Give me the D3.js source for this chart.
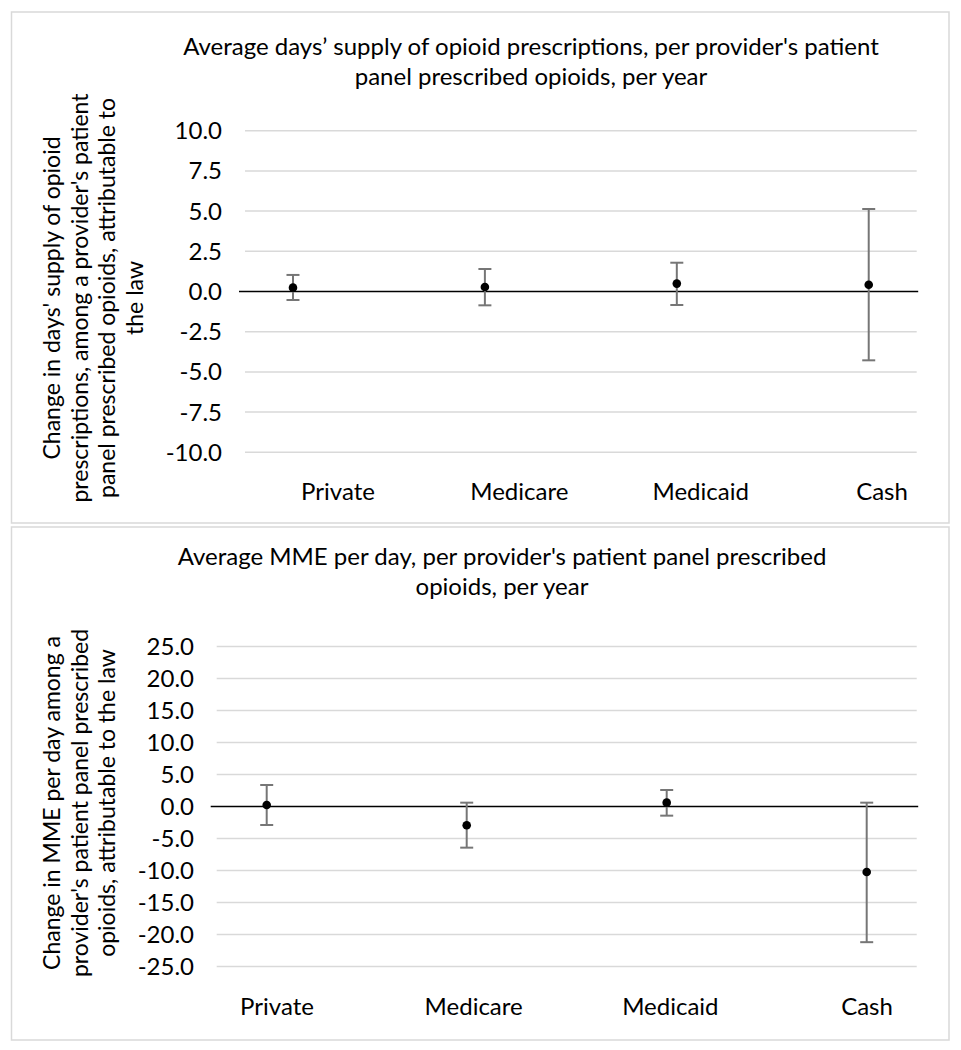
<!DOCTYPE html>
<html>
<head>
<meta charset="utf-8">
<script src="https://cdn.jsdelivr.net/npm/d3@7"></script>
<style>
	body { margin: 0; background: #fff; }
	text { font-family: Lato, "Open Sans", sans-serif; fill: #000; }
</style>
</head>
<body>
<div id="chart"></div>
<script>
var categories = ['Private', 'Medicare', 'Medicaid', 'Cash'];

// days' supply panel
var daysEstimate = [0.24, 0.28, 0.49, 0.42];
var daysLower = [-0.53, -0.86, -0.84, -4.28];
var daysUpper = [1.03, 1.40, 1.79, 5.13];
var daysTicks = [-10, -7.5, -5, -2.5, 0, 2.5, 5, 7.5, 10];

// MME per day panel
var mmeEstimate = [0.23, -2.94, 0.60, -10.23];
var mmeLower = [-2.89, -6.43, -1.43, -21.2];
var mmeUpper = [3.36, 0.60, 2.58, 0.60];
var mmeTicks = [-25, -20, -15, -10, -5, 0, 5, 10, 15, 20, 25];

const WIDTH = 961;
const HEIGHT = 1050;
const FONT = 24;

var svg = d3.select('#chart').append('svg')
	.attr('width', WIDTH)
	.attr('height', HEIGHT);

drawPanel({
	box: [11.5, 12, 937.5, 511],
	title: ['Average days\u2019 supply of opioid prescriptions, per provider\'s patient', 'panel prescribed opioids, per year'],
	titleX: 531, titleY: 47,
	yTitle: ['Change in days\' supply of opioid', 'prescriptions, among a provider\'s patient', 'panel prescribed opioids, attributable to', 'the law'],
	yTitleX: 52, yTitleY: 298,
	plotX: [245, 916.7], plotY: [452.3, 130.7],
	tickRight: 222,
	labelRange: [338, 882], labelY: 492,
	ticks: daysTicks,
	est: daysEstimate, lo: daysLower, hi: daysUpper
});

drawPanel({
	box: [11.5, 527, 937.5, 513],
	title: ['Average MME per day, per provider\'s patient panel prescribed', 'opioids, per year'],
	titleX: 502, titleY: 557,
	yTitle: ['Change in MME per day among a', 'provider\'s patient panel prescribed', 'opioids, attributable to the law'],
	yTitleX: 52, yTitleY: 803,
	plotX: [216.7, 916.7], plotY: [966.5, 646.5],
	tickRight: 194,
	labelRange: [277, 867], labelY: 1007,
	ticks: mmeTicks,
	est: mmeEstimate, lo: mmeLower, hi: mmeUpper
});

function drawPanel (cfg) {
	var g = svg.append('g');
	var ext = d3.extent(cfg.ticks);

	g.append('rect')
		.attr('x', cfg.box[0]).attr('y', cfg.box[1])
		.attr('width', cfg.box[2]).attr('height', cfg.box[3])
		.attr('fill', '#fff')
		.attr('stroke', '#d9d9d9')
		.attr('stroke-width', 1.5);

	var x = d3.scaleLinear().domain([0.75, 4.25]).range(cfg.plotX);
	var y = d3.scaleLinear().domain(ext).range(cfg.plotY);
	var lx = d3.scaleLinear().domain([1, 4]).range(cfg.labelRange);

	// gridlines
	g.selectAll('.grid').data(cfg.ticks.filter(function (t) { return t !== 0; })).enter()
		.append('line')
		.attr('class', 'grid')
		.attr('x1', x.range()[0]).attr('x2', x.range()[1])
		.attr('y1', function (d) { return y(d); })
		.attr('y2', function (d) { return y(d); })
		.attr('stroke', '#d9d9d9')
		.attr('stroke-width', 1.5);

	// tick labels (plain hyphen, like Excel)
	g.selectAll('.tick').data(cfg.ticks).enter()
		.append('text')
		.attr('x', cfg.tickRight)
		.attr('y', function (d) { return y(d); })
		.attr('dy', '0.35em')
		.attr('text-anchor', 'end')
		.style('font-size', FONT + 'px')
		.text(function (d) { return d.toFixed(1); });

	// zero axis
	g.append('line')
		.attr('x1', x.range()[0] - 6).attr('x2', x.range()[1] + 1.5)
		.attr('y1', y(0)).attr('y2', y(0))
		.attr('stroke', '#000')
		.attr('stroke-width', 1.5);

	// category labels
	g.selectAll('.cat').data(categories).enter()
		.append('text')
		.attr('x', function (d, i) { return lx(i + 1); })
		.attr('y', cfg.labelY)
		.attr('dy', '0.35em')
		.attr('text-anchor', 'middle')
		.style('font-size', FONT + 'px')
		.text(function (d) { return d; });

	// error bars
	var bars = g.selectAll('.err').data(categories).enter().append('g');
	bars.append('line')
		.attr('x1', function (d, i) { return x(i + 1); })
		.attr('x2', function (d, i) { return x(i + 1); })
		.attr('y1', function (d, i) { return y(cfg.lo[i]); })
		.attr('y2', function (d, i) { return y(cfg.hi[i]); })
		.attr('stroke', '#767676')
		.attr('stroke-width', 2);
	[cfg.lo, cfg.hi].forEach(function (arr) {
		bars.append('line')
			.attr('x1', function (d, i) { return x(i + 1) - 6.5; })
			.attr('x2', function (d, i) { return x(i + 1) + 6.5; })
			.attr('y1', function (d, i) { return y(arr[i]); })
			.attr('y2', function (d, i) { return y(arr[i]); })
			.attr('stroke', '#767676')
			.attr('stroke-width', 2);
	});
	bars.append('circle')
		.attr('cx', function (d, i) { return x(i + 1); })
		.attr('cy', function (d, i) { return y(cfg.est[i]); })
		.attr('r', 4.3)
		.attr('fill', '#000');

	// titles
	g.selectAll('.title').data(cfg.title).enter()
		.append('text')
		.attr('x', cfg.titleX)
		.attr('y', function (d, i) { return cfg.titleY + i * 30; })
		.attr('dy', '0.35em')
		.attr('text-anchor', 'middle')
		.style('font-size', FONT + 'px')
		.text(function (d) { return d; });

	g.selectAll('.ytitle').data(cfg.yTitle).enter()
		.append('text')
		.attr('transform', function (d, i) {
			return 'translate(' + (cfg.yTitleX + i * 27.5) + ',' + cfg.yTitleY + ') rotate(-90)';
		})
		.attr('dy', '0.35em')
		.attr('text-anchor', 'middle')
		.style('font-size', (FONT - 1) + 'px')
		.text(function (d) { return d; });
}
</script>
</body>
</html>
